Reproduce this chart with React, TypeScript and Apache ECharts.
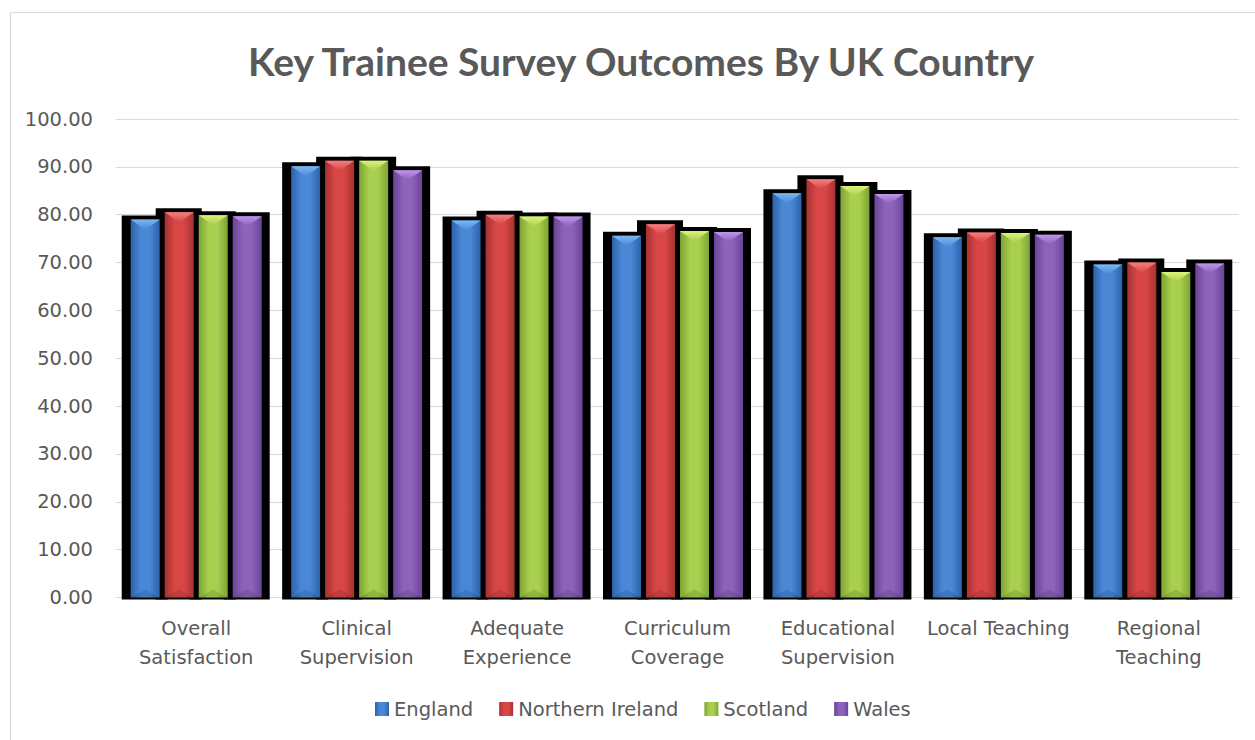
import React, { useEffect, useRef } from "react";
import * as echarts from "echarts";

const categories = [
  "Overall\nSatisfaction",
  "Clinical\nSupervision",
  "Adequate\nExperience",
  "Curriculum\nCoverage",
  "Educational\nSupervision",
  "Local Teaching",
  "Regional\nTeaching",
];
const seriesNames = ["England", "Northern Ireland", "Scotland", "Wales"];
const england = [79.0, 90.1, 78.8, 75.6, 84.5, 75.3, 69.6];
const northernIreland = [80.5, 91.3, 80.0, 78.0, 87.4, 76.3, 70.0];
const scotland = [79.9, 91.3, 79.6, 76.6, 86.0, 76.2, 68.0];
const wales = [79.7, 89.3, 79.6, 76.4, 84.3, 75.8, 69.8];
const yTicks = { min: 0, max: 100, interval: 10 };

const palette = [
  { edge: "#2c62a8", mid: "#4a88d6", bevel: "#7ab8f4" },
  { edge: "#a83232", mid: "#d94646", bevel: "#f48080" },
  { edge: "#7ea436", mid: "#a8cf4e", bevel: "#dcf47a" },
  { edge: "#6a4596", mid: "#8c62ba", bevel: "#bf96ea" },
];

const BAR_W = 29;
const BAR_GAP = 5;
const FONT = "DejaVu Sans";
const FS = 19.5;

export default function App() {
  const ref = useRef<HTMLDivElement>(null);
  useEffect(() => {
    document.body.style.margin = "0";
    const chart = echarts.init(ref.current!, null, { renderer: "svg" });
    const all = [england, northernIreland, scotland, wales];
    const rows = categories.map((_, i) => [i, england[i], northernIreland[i], scotland[i], wales[i]]);
    const groupW = 4 * BAR_W + 3 * BAR_GAP;

    const shadowRender = (params: any, api: any) => {
      const i = api.value(0);
      const base = api.coord([i, 0]);
      const children: any[] = [];
      for (let k = 0; k < 4; k++) {
        const top = api.coord([i, api.value(k + 1)])[1];
        const x0 = base[0] - groupW / 2 + k * (BAR_W + BAR_GAP);
        children.push({
          type: "rect",
          shape: { x: x0 - 9, y: top - 4, width: BAR_W + 17, height: base[1] - top + 6 },
          style: { fill: "#000" },
        });
      }
      return { type: "group", children };
    };
    const bevelRender = (params: any, api: any) => {
      const i = api.value(0);
      const base = api.coord([i, 0]);
      const children: any[] = [];
      for (let k = 0; k < 4; k++) {
        const top = api.coord([i, api.value(k + 1)])[1];
        const x0 = base[0] - groupW / 2 + k * (BAR_W + BAR_GAP);
        children.push({
          type: "polygon",
          shape: { points: [[x0, top], [x0 + BAR_W, top], [x0 + BAR_W / 2, top + 10]] },
          style: {
            fill: new echarts.graphic.LinearGradient(0, 0, 0, 1, [
              { offset: 0, color: palette[k].bevel },
              { offset: 1, color: palette[k].mid },
            ]),
          },
        });
        children.push({
          type: "polygon",
          shape: { points: [[x0, base[1]], [x0 + BAR_W, base[1]], [x0 + BAR_W / 2, base[1] - 8]] },
          style: { fill: "rgba(0,0,0,0.12)" },
        });
      }
      return { type: "group", children };
    };

    chart.setOption({
      animation: false,
      backgroundColor: "#ffffff",
      title: {
        text: "Key Trainee Survey Outcomes By UK Country",
        left: 243,
        top: 36,
        textStyle: { fontFamily: "Lato", fontWeight: "bold", fontSize: 39, color: "#595959" },
      },
      graphic: [
        {
          type: "rect",
          shape: { x: 10.5, y: 12.5, width: 1260, height: 740 },
          style: { fill: "none", stroke: "#d9d9d9", lineWidth: 1 },
          silent: true,
        },
      ],
      grid: { left: 116, right: 16, top: 119, bottom: 142.5 },
      legend: {
        data: seriesNames,
        bottom: 16,
        left: 370,
        icon: "rect",
        itemWidth: 14,
        itemHeight: 14,
        itemGap: 26,
        textStyle: { fontFamily: FONT, fontSize: FS, color: "#595959" },
      },
      xAxis: {
        type: "category",
        data: categories,
        axisTick: { show: false },
        axisLine: { lineStyle: { color: "#d9d9d9", width: 1 } },
        axisLabel: {
          fontFamily: FONT,
          fontSize: FS,
          color: "#595959",
          lineHeight: 29,
          margin: 16,
          interval: 0,
        },
      },
      yAxis: {
        type: "value",
        min: yTicks.min,
        max: yTicks.max,
        interval: yTicks.interval,
        axisLine: { show: false },
        axisTick: { show: false },
        splitLine: { lineStyle: { color: "#d9d9d9", width: 1 } },
        axisLabel: {
          fontFamily: FONT,
          fontSize: FS,
          color: "#595959",
          margin: 23,
          formatter: (v: number) => v.toFixed(2),
        },
      },
      series: [
        {
          type: "custom",
          name: "_shadow",
          z: 1,
          silent: true,
          renderItem: shadowRender,
          encode: { x: 0, y: [1, 2, 3, 4] },
          data: rows,
        },
        ...all.map((d, k) => ({
          type: "bar",
          name: seriesNames[k],
          z: 2,
          barWidth: BAR_W,
          barGap: `${(BAR_GAP / BAR_W) * 100}%`,
          data: d,
          itemStyle: {
            color: new echarts.graphic.LinearGradient(0, 0, 1, 0, [
              { offset: 0, color: palette[k].edge },
              { offset: 0.35, color: palette[k].mid },
              { offset: 0.65, color: palette[k].mid },
              { offset: 1, color: palette[k].edge },
            ]),
          },
        })),
        {
          type: "custom",
          name: "_bevel",
          z: 3,
          silent: true,
          renderItem: bevelRender,
          encode: { x: 0, y: [1, 2, 3, 4] },
          data: rows,
        },
      ],
    });
    return () => chart.dispose();
  }, []);
  return <div ref={ref} style={{ width: 1255, height: 740 }} />;
}
